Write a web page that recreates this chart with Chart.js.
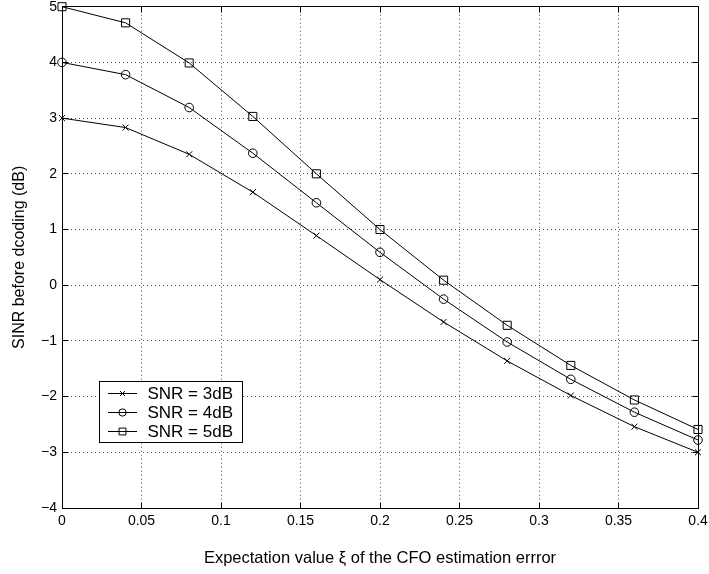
<!DOCTYPE html>
<html><head><meta charset="utf-8">
<script src="https://cdn.jsdelivr.net/npm/chart.js@4"></script>
<style>html,body{margin:0;padding:0;background:#fff;} #wrap{width:709px;height:574px;}</style>
</head><body><div id="wrap"><canvas id="c" width="709" height="574"></canvas></div>
<script>
const xValues = [0, 0.04, 0.08, 0.12, 0.16, 0.2, 0.24, 0.28, 0.32, 0.36, 0.4];
const snr3 = [3.0, 2.83, 2.35, 1.67, 0.89, 0.10, -0.66, -1.36, -1.98, -2.54, -3.0];
const snr4 = [4.0, 3.78, 3.19, 2.37, 1.48, 0.59, -0.25, -1.02, -1.69, -2.28, -2.78];
const snr5 = [5.0, 4.71, 3.99, 3.03, 2.00, 1.00, 0.09, -0.72, -1.44, -2.06, -2.59];
const seriesNames = ['SNR = 3dB', 'SNR = 4dB', 'SNR = 5dB'];
const xTickValues = [0, 0.05, 0.1, 0.15, 0.2, 0.25, 0.3, 0.35, 0.4];
const xTickLabels = ['0', '0.05', '0.1', '0.15', '0.2', '0.25', '0.3', '0.35', '0.4'];
const yTickValues = [-4, -3, -2, -1, 0, 1, 2, 3, 4, 5];
const yTickLabels = ['\u22124', '\u22123', '\u22122', '\u22121', '0', '1', '2', '3', '4', '5'];
const xAxisTitle = 'Expectation value \u03BE of the CFO estimation errror';
const yAxisTitle = 'SINR before dcoding (dB)';

const FONT = "'Liberation Sans', Arial, Helvetica, sans-serif";
const markerStyles = ['crossRot', 'circle', 'rect'];
const markerRadii = [4.2, 4.3, 5.7];
const seriesValues = [snr3, snr4, snr5];

Chart.defaults.font.family = FONT;
Chart.defaults.color = '#000';

const datasets = seriesValues.map((vals, k) => ({
  label: seriesNames[k],
  data: xValues.map((x, i) => ({x: x, y: vals[i]})),
  borderColor: '#000',
  borderWidth: 1,
  pointStyle: markerStyles[k],
  pointRadius: markerRadii[k],
  pointBorderColor: '#000',
  pointBackgroundColor: 'rgba(0,0,0,0)',
  pointBorderWidth: 1,
  tension: 0,
  fill: false,
  clip: false
}));

const TICK_LEN = 6;
const framePlugin = {
  id: 'frame',
  afterDraw(chart) {
    const ctx = chart.ctx, a = chart.chartArea, xs = chart.scales.x, ys = chart.scales.y;
    const al = p => Math.round(p - 0.5) + 0.5;
    const L = al(a.left), R = al(a.right), T = al(a.top), B = al(a.bottom);
    ctx.save();
    ctx.setLineDash([]);
    ctx.strokeStyle = '#000';
    ctx.lineWidth = 1;
    ctx.beginPath();
    ctx.moveTo(L, T); ctx.lineTo(R, T); ctx.lineTo(R, B); ctx.lineTo(L, B); ctx.closePath();
    ctx.stroke();
    ctx.beginPath();
    xTickValues.forEach(v => {
      const px = al(xs.getPixelForValue(v));
      ctx.moveTo(px, B); ctx.lineTo(px, B - TICK_LEN);
      ctx.moveTo(px, T); ctx.lineTo(px, T + TICK_LEN);
    });
    yTickValues.forEach(v => {
      const py = al(ys.getPixelForValue(v));
      ctx.moveTo(L, py); ctx.lineTo(L + TICK_LEN, py);
      ctx.moveTo(R, py); ctx.lineTo(R - TICK_LEN, py);
    });
    ctx.stroke();

    // legend box
    const bx = 99.5, by = 381.5, bw = 143, bh = 61;
    ctx.fillStyle = '#fff';
    ctx.fillRect(bx, by, bw, bh);
    ctx.strokeRect(bx, by, bw, bh);
    ctx.font = '17px ' + FONT;
    ctx.textBaseline = 'middle';
    ctx.textAlign = 'left';
    seriesNames.forEach((name, k) => {
      const cy = 393.5 + k * 19;
      ctx.strokeStyle = '#000';
      ctx.lineWidth = 1;
      ctx.beginPath();
      ctx.moveTo(108, cy); ctx.lineTo(137, cy);
      ctx.stroke();
      ctx.fillStyle = 'rgba(0,0,0,0)';
      Chart.helpers.drawPoint(ctx, {pointStyle: markerStyles[k], radius: markerRadii[k] * 0.85, rotation: 0, borderWidth: 1}, 122.5, cy);
      ctx.fillStyle = '#000';
      ctx.fillText(name, 147.5, cy + 1);
    });
    ctx.restore();
  }
};

new Chart(document.getElementById('c'), {
  type: 'line',
  data: {datasets: datasets},
  options: {
    responsive: false,
    animation: false,
    devicePixelRatio: 1,
    layout: {padding: {left: 0, right: 11, top: 6, bottom: 0}},
    plugins: {legend: {display: false}, tooltip: {enabled: false}},
    scales: {
      x: {
        type: 'linear', min: 0, max: 0.4,
        afterBuildTicks: s => { s.ticks = xTickValues.map(v => ({value: v})); },
        afterFit: s => { s.height = 66; s.paddingLeft = 0; s.paddingRight = 0; },
        ticks: {callback: (v, i) => xTickLabels[i], font: {size: 14}, padding: 5, maxRotation: 0, autoSkip: false},
        grid: {color: 'rgba(0,0,0,0.7)', lineWidth: 1, drawTicks: false},
        border: {display: true, color: '#000', width: 1, dash: [1, 3]},
        title: {display: true, text: xAxisTitle, font: {size: 16.5}, padding: {top: 0, bottom: 6}}
      },
      y: {
        type: 'linear', min: -4, max: 5,
        afterBuildTicks: s => { s.ticks = yTickValues.map(v => ({value: v})); },
        afterFit: s => { s.width = 62; s.paddingTop = 0; s.paddingBottom = 0; },
        ticks: {callback: (v, i) => yTickLabels[i], font: {size: 14}, padding: 5, autoSkip: false},
        grid: {color: 'rgba(0,0,0,0.7)', lineWidth: 1, drawTicks: false},
        border: {display: true, color: '#000', width: 1, dash: [1, 3]},
        title: {display: true, text: yAxisTitle, font: {size: 16}, padding: {top: 10, bottom: 0}}
      }
    }
  },
  plugins: [framePlugin]
});
</script>
</body></html>
